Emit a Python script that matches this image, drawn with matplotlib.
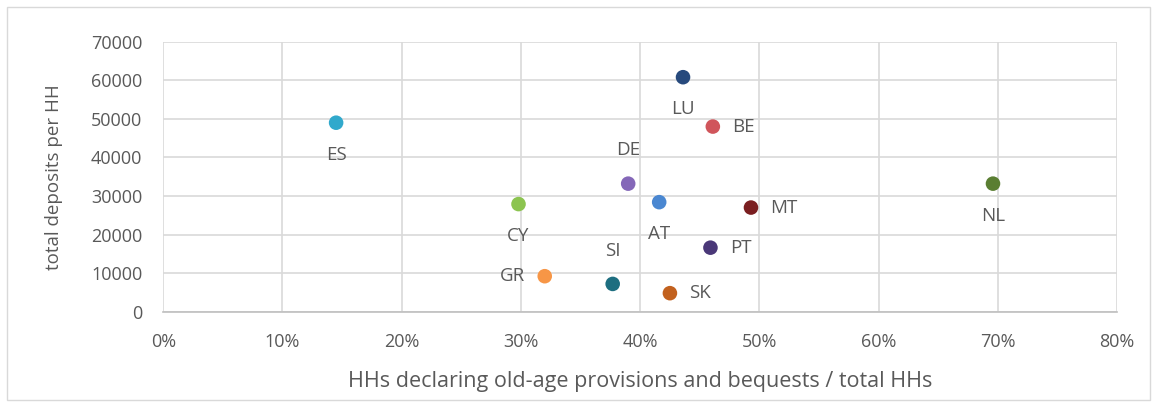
import matplotlib.pyplot as plt
from matplotlib.patches import Rectangle
from matplotlib.ticker import FuncFormatter, MultipleLocator

# data
countries = ['ES', 'LU', 'BE', 'DE', 'AT', 'MT', 'CY', 'PT', 'GR', 'SI', 'SK', 'NL']
share_old_age = [0.145, 0.436, 0.461, 0.390, 0.416, 0.493, 0.298, 0.459, 0.320, 0.377, 0.425, 0.696]
deposits = [49000, 60800, 48000, 33200, 28400, 27000, 27900, 16600, 9200, 7200, 4800, 33200]
colors = ['#31A9CC', '#274A7D', '#D0555B', '#8467B8', '#4A87D1', '#7A1E20',
          '#8CC450', '#4A3878', '#F79646', '#1D6E80', '#C2611E', '#5A7E32']
# label placement: where the label sits relative to the point
label_side = ['below', 'below', 'right', 'above', 'below', 'right',
              'below', 'right', 'left', 'above', 'right', 'below']

plt.rcParams['font.family'] = ['Open Sans', 'DejaVu Sans']
text_color = '#595959'
grid_color = '#D9D9D9'

fig = plt.figure(figsize=(11.57, 4.05), dpi=100)
ax = fig.add_axes([0.1411, 0.2304, 0.8243, 0.6666])

ax.scatter(share_old_age, deposits, s=110, c=colors, zorder=3, linewidths=0)

offsets = {'below': (0, -23, 'center'),
           'above': (0, 24, 'center'),
           'right': (14, 0, 'left'),
           'left': (-14, 0, 'right')}
for name, x, y, side in zip(countries, share_old_age, deposits, label_side):
    dx, dy, ha = offsets[side]
    ax.annotate(name, (x, y), xytext=(dx, dy), textcoords='offset points',
                ha=ha, va='center', fontsize=13.5, color=text_color)

ax.set_xlim(0, 0.8)
ax.set_ylim(0, 70000)
ax.xaxis.set_major_locator(MultipleLocator(0.1))
ax.yaxis.set_major_locator(MultipleLocator(10000))
ax.xaxis.set_major_formatter(FuncFormatter(lambda v, p: f'{v*100:.0f}%'))
ax.grid(True, color=grid_color, linewidth=1.2, zorder=0)
ax.set_axisbelow(True)
for s in ['top', 'right', 'left']:
    ax.spines[s].set_visible(False)
ax.spines['bottom'].set_color('#BFBFBF')
ax.spines['bottom'].set_linewidth(1.2)
ax.tick_params(length=0, labelsize=13, colors=text_color)
ax.tick_params(axis='x', pad=15)
ax.tick_params(axis='y', pad=15)

ax.set_xlabel('HHs declaring old-age provisions and bequests / total HHs',
              fontsize=15.5, color=text_color, labelpad=15)
ax.set_ylabel('total deposits per HH', fontsize=13.5, color=text_color, labelpad=20)

# thin border around the whole chart area
fig.patches.append(Rectangle((0.006, 0.012), 0.988, 0.97, transform=fig.transFigure,
                             fill=False, edgecolor='#D9D9D9', linewidth=1))

fig.savefig('out.png', dpi=100)
